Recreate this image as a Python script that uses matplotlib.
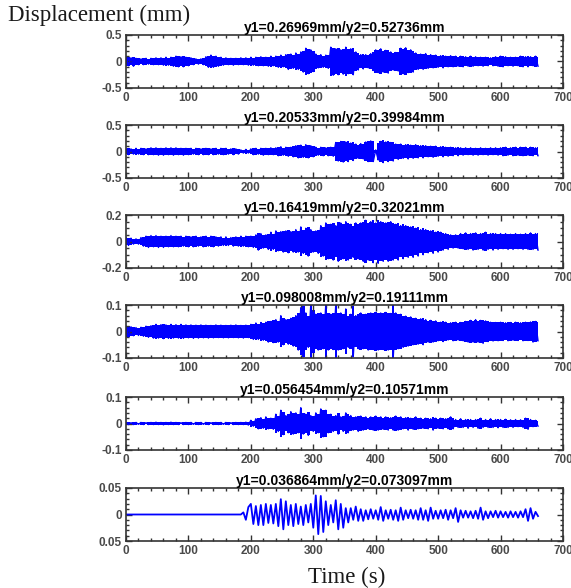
import matplotlib
matplotlib.use('Agg')
import matplotlib.pyplot as plt
import numpy as np
from matplotlib.ticker import MultipleLocator

# Sampling: one peak value every 4 s, from 0 s to 660 s
step = 4
t_end = 660

titles = [
    'y1=0.26969mm/y2=0.52736mm',
    'y1=0.20533mm/y2=0.39984mm',
    'y1=0.16419mm/y2=0.32021mm',
    'y1=0.098008mm/y2=0.19111mm',
    'y1=0.056454mm/y2=0.10571mm',
    'y1=0.036864mm/y2=0.073097mm',
]

y_limits = [0.5, 0.5, 0.2, 0.1, 0.1, 0.05]
y_major = [0.5, 0.5, 0.2, 0.1, 0.1, 0.05]
y_minor = [0.1, 0.1, 0.05, 0.02, 0.02, 0.01]
y_ticklabels = [
    ['-0.5', '0', '0.5'],
    ['-0.5', '0', '0.5'],
    ['-0.2', '0', '0.2'],
    ['-0.1', '0', '0.1'],
    ['-0.1', '0', '0.1'],
    ['0.05', '0', '0.05'],
]

# displacement peaks (mm), 10 values per 40 s
disp1 = [
    0.09, -0.08, 0.07, -0.09, 0.06, -0.06, 0.05, -0.06, 0.06, -0.05,
    0.06, -0.06, 0.07, -0.06, 0.07, -0.07, 0.08, -0.07, 0.08, -0.09,
    0.10, -0.10, 0.09, -0.10, 0.08, -0.08, 0.07, -0.06, 0.05, -0.05,
    0.05, -0.06, 0.09, -0.11, 0.12, -0.11, 0.10, -0.09, 0.08, -0.07,
    0.07, -0.06, 0.06, -0.07, 0.06, -0.06, 0.07, -0.06, 0.07, -0.07,
    0.08, -0.07, 0.08, -0.08, 0.09, -0.08, 0.08, -0.09, 0.10, -0.08,
    0.10, -0.11, 0.12, -0.10, 0.13, -0.15, 0.14, -0.13, 0.16, -0.15,
    0.18, -0.20, 0.25, -0.23, 0.22, -0.19, 0.14, -0.12, 0.13, -0.11,
    0.12, -0.13, 0.27, -0.26, 0.24, -0.25, 0.22, -0.24, 0.27, -0.23,
    0.24, -0.25, 0.18, -0.16, 0.13, -0.14, 0.13, -0.12, 0.15, -0.17,
    0.22, -0.21, 0.24, -0.20, 0.21, -0.22, 0.18, -0.16, 0.17, -0.18,
    0.25, -0.23, 0.26, -0.21, 0.22, -0.20, 0.16, -0.15, 0.14, -0.15,
    0.15, -0.13, 0.13, -0.12, 0.12, -0.11, 0.11, -0.12, 0.10, -0.10,
    0.11, -0.10, 0.10, -0.09, 0.10, -0.10, 0.09, -0.09, 0.10, -0.09,
    0.09, -0.08, 0.08, -0.09, 0.08, -0.08, 0.07, -0.08, 0.09, -0.09,
    0.10, -0.10, 0.09, -0.08, 0.08, -0.09, 0.08, -0.08, 0.10, -0.10,
    0.09, -0.10, 0.09, -0.08, 0.10, -0.09,
]

disp2 = [
    0.05, -0.06, 0.05, -0.05, 0.06, -0.05, 0.06, -0.06, 0.05, -0.06,
    0.07, -0.06, 0.07, -0.07, 0.06, -0.07, 0.07, -0.06, 0.07, -0.07,
    0.07, -0.06, 0.06, -0.07, 0.06, -0.06, 0.06, -0.05, 0.06, -0.06,
    0.05, -0.06, 0.06, -0.06, 0.05, -0.06, 0.06, -0.05, 0.06, -0.06,
    0.06, -0.05, 0.05, -0.06, 0.05, -0.05, 0.03, -0.03, 0.04, -0.03,
    0.05, -0.06, 0.06, -0.05, 0.06, -0.07, 0.06, -0.06, 0.07, -0.06,
    0.07, -0.08, 0.09, -0.07, 0.08, -0.09, 0.08, -0.10, 0.11, -0.12,
    0.12, -0.11, 0.13, -0.12, 0.11, -0.10, 0.08, -0.07, 0.08, -0.08,
    0.07, -0.08, 0.08, -0.09, 0.17, -0.18, 0.19, -0.20, 0.18, -0.19,
    0.16, -0.17, 0.14, -0.13, 0.15, -0.14, 0.18, -0.19, 0.20, -0.19,
    0.03, -0.16, 0.19, -0.21, 0.18, -0.19, 0.17, -0.18, 0.14, -0.15,
    0.14, -0.13, 0.13, -0.14, 0.12, -0.13, 0.13, -0.12, 0.11, -0.12,
    0.11, -0.10, 0.10, -0.11, 0.10, -0.09, 0.09, -0.10, 0.08, -0.09,
    0.08, -0.08, 0.07, -0.08, 0.07, -0.07, 0.07, -0.06, 0.07, -0.07,
    0.06, -0.07, 0.07, -0.06, 0.06, -0.07, 0.07, -0.06, 0.07, -0.07,
    0.07, -0.08, 0.08, -0.07, 0.07, -0.08, 0.08, -0.07, 0.08, -0.08,
    0.08, -0.07, 0.08, -0.08, 0.07, -0.08,
]

disp3 = [
    0.03, -0.03, 0.025, -0.02, 0.02, -0.02, 0.03, -0.035, 0.04, -0.045,
    0.045, -0.04, 0.045, -0.045, 0.04, -0.045, 0.04, -0.04, 0.045, -0.04,
    0.04, -0.04, 0.04, -0.035, 0.04, -0.04, 0.035, -0.04, 0.04, -0.035,
    0.035, -0.04, 0.04, -0.035, 0.04, -0.04, 0.035, -0.035, 0.035, -0.03,
    0.035, -0.03, 0.03, -0.035, 0.035, -0.035, 0.04, -0.035, 0.04, -0.04,
    0.04, -0.045, 0.05, -0.065, 0.06, -0.05, 0.05, -0.06, 0.07, -0.06,
    0.08, -0.07, 0.075, -0.08, 0.08, -0.085, 0.075, -0.08, 0.09, -0.08,
    0.11, -0.09, 0.10, -0.11, 0.09, -0.08, 0.08, -0.09, 0.12, -0.11,
    0.14, -0.13, 0.13, -0.14, 0.12, -0.15, 0.14, -0.13, 0.15, -0.14,
    0.13, -0.12, 0.14, -0.13, 0.14, -0.15, 0.16, -0.14, 0.15, -0.16,
    0.14, -0.165, 0.15, -0.15, 0.14, -0.15, 0.15, -0.14, 0.13, -0.14,
    0.12, -0.13, 0.12, -0.12, 0.11, -0.12, 0.10, -0.11, 0.09, -0.10,
    0.09, -0.085, 0.08, -0.09, 0.07, -0.08, 0.07, -0.065, 0.06, -0.06,
    0.05, -0.05, 0.05, -0.05, 0.06, -0.055, 0.065, -0.06, 0.06, -0.065,
    0.065, -0.06, 0.06, -0.065, 0.07, -0.06, 0.06, -0.065, 0.06, -0.06,
    0.06, -0.055, 0.06, -0.06, 0.055, -0.06, 0.06, -0.055, 0.055, -0.06,
    0.06, -0.06, 0.065, -0.06, 0.06, -0.065,
]

disp4 = [
    0.02, -0.02, 0.018, -0.016, 0.015, -0.015, 0.016, -0.018, 0.02, -0.022,
    0.022, -0.025, 0.027, -0.025, 0.026, -0.027, 0.025, -0.026, 0.027, -0.025,
    0.026, -0.025, 0.027, -0.026, 0.025, -0.024, 0.025, -0.026, 0.024, -0.025,
    0.025, -0.024, 0.024, -0.025, 0.023, -0.024, 0.025, -0.023, 0.024, -0.024,
    0.023, -0.024, 0.024, -0.023, 0.025, -0.024, 0.023, -0.025, 0.024, -0.023,
    0.027, -0.03, 0.032, -0.03, 0.034, -0.033, 0.035, -0.04, 0.038, -0.042,
    0.045, -0.04, 0.06, -0.05, 0.045, -0.048, 0.05, -0.055, 0.06, -0.07,
    0.09, -0.095, 0.07, -0.06, 0.10, -0.08, 0.065, -0.07, 0.07, -0.065,
    0.10, -0.07, 0.065, -0.068, 0.10, -0.07, 0.07, -0.065, 0.085, -0.06,
    0.065, -0.095, 0.06, -0.065, 0.07, -0.065, 0.065, -0.07, 0.07, -0.068,
    0.072, -0.07, 0.07, -0.068, 0.072, -0.07, 0.068, -0.10, 0.07, -0.065,
    0.065, -0.06, 0.058, -0.055, 0.055, -0.05, 0.05, -0.048, 0.048, -0.05,
    0.045, -0.04, 0.042, -0.04, 0.04, -0.035, 0.035, -0.038, 0.035, -0.032,
    0.033, -0.035, 0.035, -0.032, 0.034, -0.035, 0.038, -0.04, 0.042, -0.04,
    0.045, -0.04, 0.042, -0.045, 0.04, -0.038, 0.035, -0.036, 0.034, -0.035,
    0.035, -0.034, 0.033, -0.035, 0.034, -0.033, 0.035, -0.034, 0.033, -0.035,
    0.035, -0.034, 0.036, -0.04, 0.038, -0.035,
]

disp5 = [
    0.004, -0.004, 0.003, -0.004, 0.004, -0.003, 0.004, -0.004, 0.003, -0.004,
    0.004, -0.004, 0.005, -0.004, 0.004, -0.005, 0.004, -0.004, 0.005, -0.004,
    0.004, -0.004, 0.003, -0.004, 0.004, -0.004, 0.004, -0.003, 0.004, -0.004,
    0.004, -0.003, 0.004, -0.004, 0.003, -0.004, 0.004, -0.004, 0.004, -0.003,
    0.004, -0.004, 0.003, -0.004, 0.004, -0.004, 0.004, -0.004, 0.005, -0.006,
    0.012, -0.01, 0.018, -0.02, 0.022, -0.018, 0.025, -0.02, 0.02, -0.022,
    0.035, -0.03, 0.05, -0.042, 0.03, -0.035, 0.045, -0.04, 0.04, -0.035,
    0.06, -0.04, 0.035, -0.045, 0.03, -0.03, 0.04, -0.035, 0.055, -0.05,
    0.05, -0.035, 0.035, -0.03, 0.03, -0.04, 0.025, -0.03, 0.04, -0.035,
    0.03, -0.025, 0.025, -0.03, 0.028, -0.025, 0.025, -0.02, 0.025, -0.025,
    0.028, -0.025, 0.025, -0.022, 0.025, -0.025, 0.022, -0.025, 0.028, -0.025,
    0.025, -0.02, 0.022, -0.025, 0.02, -0.022, 0.025, -0.02, 0.02, -0.018,
    0.02, -0.02, 0.018, -0.025, 0.02, -0.018, 0.02, -0.02, 0.018, -0.02,
    0.025, -0.02, 0.015, -0.015, 0.018, -0.015, 0.015, -0.018, 0.015, -0.015,
    0.015, -0.018, 0.02, -0.015, 0.015, -0.015, 0.018, -0.015, 0.015, -0.016,
    0.015, -0.015, 0.016, -0.015, 0.014, -0.015, 0.015, -0.012, 0.014, -0.015,
    0.02, -0.022, 0.015, -0.012, 0.012, -0.01,
]

disp6 = [
    0, 0, 0, 0, 0, 0, 0, 0, 0, 0,
    0, 0, 0, 0, 0, 0, 0, 0, 0, 0,
    0, 0, 0, 0, 0, 0, 0, 0, 0, 0,
    0, 0, 0, 0, 0, 0, 0, 0, 0, 0,
    0, 0, 0, 0, 0, 0, 0, 0.004, -0.01, 0.014,
    0.02, -0.018, 0.016, -0.02, 0.018, -0.02, 0.02, -0.016, 0.018, -0.017,
    0.02, -0.022, 0.029, -0.028, 0.025, -0.02, 0.018, -0.022, 0.02, -0.018,
    0.015, -0.02, 0.018, -0.015, 0.02, -0.025, 0.036, -0.037, 0.035, -0.033,
    0.025, -0.02, 0.018, -0.015, 0.027, -0.028, 0.02, -0.025, 0.012, -0.015,
    0.012, -0.01, 0.015, -0.012, 0.01, -0.012, 0.008, -0.009, 0.01, -0.008,
    0.008, -0.01, 0.014, -0.012, 0.008, -0.008, 0.009, -0.01, 0.008, -0.012,
    0.013, -0.01, 0.008, -0.007, 0.009, -0.008, 0.008, -0.01, 0.012, -0.01,
    0.008, -0.012, 0.013, -0.008, 0.007, -0.008, 0.008, -0.007, 0.009, -0.01,
    0.008, -0.007, 0.012, -0.014, 0.008, -0.006, 0.007, -0.006, 0.006, -0.007,
    0.007, -0.008, 0.013, -0.01, 0.006, -0.007, 0.006, -0.005, 0.007, -0.006,
    0.006, -0.005, 0.005, -0.006, 0.006, -0.005, 0.005, -0.006, 0.006, -0.005,
    0.01, -0.012, 0.012, -0.008, 0.005, -0.003,
]

series = [disp1, disp2, disp3, disp4, disp5, disp6]
line_widths = [1.0, 1.0, 1.0, 1.0, 1.0, 1.3]
# the first five traces are so dense they read as a solid band
solid_band = [True, True, True, True, True, False]

t = np.arange(0, t_end + 1, step)

fig = plt.figure(figsize=(5.71, 5.88), dpi=100)
W, H = 571, 588
ax_left, ax_right = 126, 563
ax_tops = [35, 125, 215, 305, 397, 488]
ax_h = 53

tick_font = dict(family='Liberation Sans', weight='bold', size=8.5)
blue = '#0000ff'

for i, vals in enumerate(series):
    top = ax_tops[i]
    ax = fig.add_axes([ax_left / W, 1 - (top + ax_h) / H,
                       (ax_right - ax_left) / W, ax_h / H])
    v = np.array(vals)
    if solid_band[i]:
        ax.fill_between(t, np.abs(v), -np.abs(v), step='mid', color=blue, lw=0)
    ax.plot(t, v, color=blue, lw=line_widths[i])
    ax.set_xlim(0, 700)
    lim = y_limits[i]
    ax.set_ylim(-lim, lim)
    ax.xaxis.set_major_locator(MultipleLocator(100))
    ax.xaxis.set_minor_locator(MultipleLocator(20))
    ax.set_yticks([-y_major[i], 0, y_major[i]])
    ax.set_yticklabels(y_ticklabels[i])
    ax.yaxis.set_minor_locator(MultipleLocator(y_minor[i]))
    ax.tick_params(which='both', direction='in', top=True, right=True,
                   colors='#333333', labelcolor='#4a4a4a', width=1.0)
    ax.tick_params(which='major', length=4, pad=3)
    ax.tick_params(which='minor', length=2)
    for lab in ax.get_xticklabels() + ax.get_yticklabels():
        lab.set_fontproperties(tick_font)
    for sp in ax.spines.values():
        sp.set_linewidth(1.2)
        sp.set_color('#333333')
    ax.set_title(titles[i], fontsize=10, fontweight='bold',
                 family='Liberation Sans', pad=1.0)

fig.text(8 / W, 1 - 15 / H, 'Displacement (mm)', family='Liberation Serif',
         fontsize=16.5, color='#1a1a1a', ha='left', va='center')
fig.text(347 / W, 1 - 577 / H, 'Time (s)', family='Liberation Serif',
         fontsize=16.5, color='#1a1a1a', ha='center', va='center')

fig.savefig('out.png', dpi=100)
